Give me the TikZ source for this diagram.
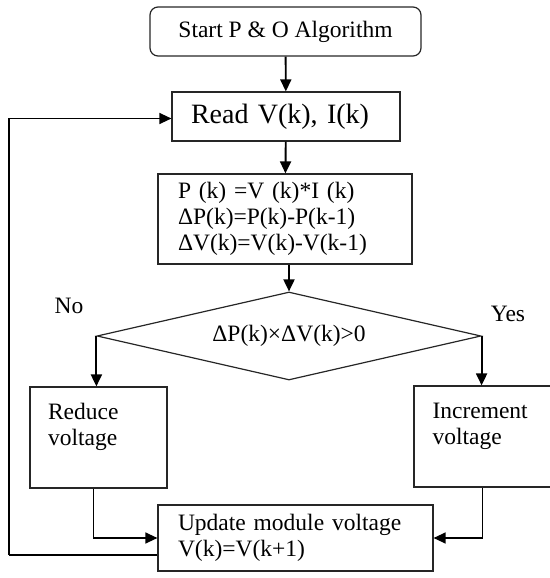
\documentclass[tikz,border=0pt]{standalone}
\usepackage{fontspec}
\setmainfont{Liberation Serif}
\usetikzlibrary{arrows.meta,shapes.geometric}

\tikzset{
  box/.style={draw=black!85, line width=1.2pt, inner sep=0pt, align=left},
  arr/.style={-{Triangle[length=12pt,width=11pt]}, line width=1.9pt},
  thinarr/.style={-{Triangle[length=12pt,width=11pt]}, line width=1.3pt},
}

\begin{document}
\begin{tikzpicture}[x=1pt,y=-1pt,font=\fontsize{23.5}{26}\selectfont]
  \useasboundingbox (0,0) rectangle (549,578);

  \node[box, rounded corners=8pt, align=center, minimum width=271pt, minimum height=49pt] (start) at (285.5,31.5) {Start P \& O Algorithm};
  \node[box, minimum width=228pt, minimum height=49pt, text width=190pt, font=\fontsize{28}{30}\selectfont] (read) at (286,116.5) {Read V(k), I(k)};
  \node[box, minimum width=254pt, minimum height=90pt, text width=214pt] (calc) at (285,219) {P (k) =V (k)*I (k)\\ΔP(k)=P(k)-P(k-1)\\ΔV(k)=V(k)-V(k-1)};
  \node[box, shape=diamond, aspect=4.36, align=center, minimum width=384pt, minimum height=88pt] (check) at (289,336) {ΔP(k)×ΔV(k)>0};
  \node[box, minimum width=137pt, minimum height=101pt, text width=101pt] (reduce) at (98.5,437.5) {Reduce\\voltage\\\mbox{}};
  \node[box, minimum width=137pt, minimum height=101pt, text width=100pt] (incr) at (482.5,436.5) {Increment\\voltage\\\mbox{}};
  \node[box, minimum width=275pt, minimum height=66pt, text width=235pt] (update) at (295.5,538) {Update module voltage\\V(k)=V(k+1)};

  \node (no) at (69,306) {No};
  \node (yes) at (508,314) {Yes};

  \coordinate (corner) at (9,555);

  \draw[arr] (start) -- (read);
  \draw[arr] (read) -- (calc);
  \draw[arr] (calc.south -| check.north) -- (check.north);
  \draw[arr] (check.west) -- (check.west |- reduce.north);
  \draw[arr] (check.east) -- (check.east |- incr.north);
  \draw[thinarr] ([xshift=-5pt]reduce.south) |- (update.west);
  \draw[thinarr] (incr.south) |- (update.east);
  \draw[line width=1.2pt] (update.west |- corner) -- (corner);
  \draw[thinarr] (corner) |- ([yshift=-2pt]read.west);
\end{tikzpicture}
\end{document}
